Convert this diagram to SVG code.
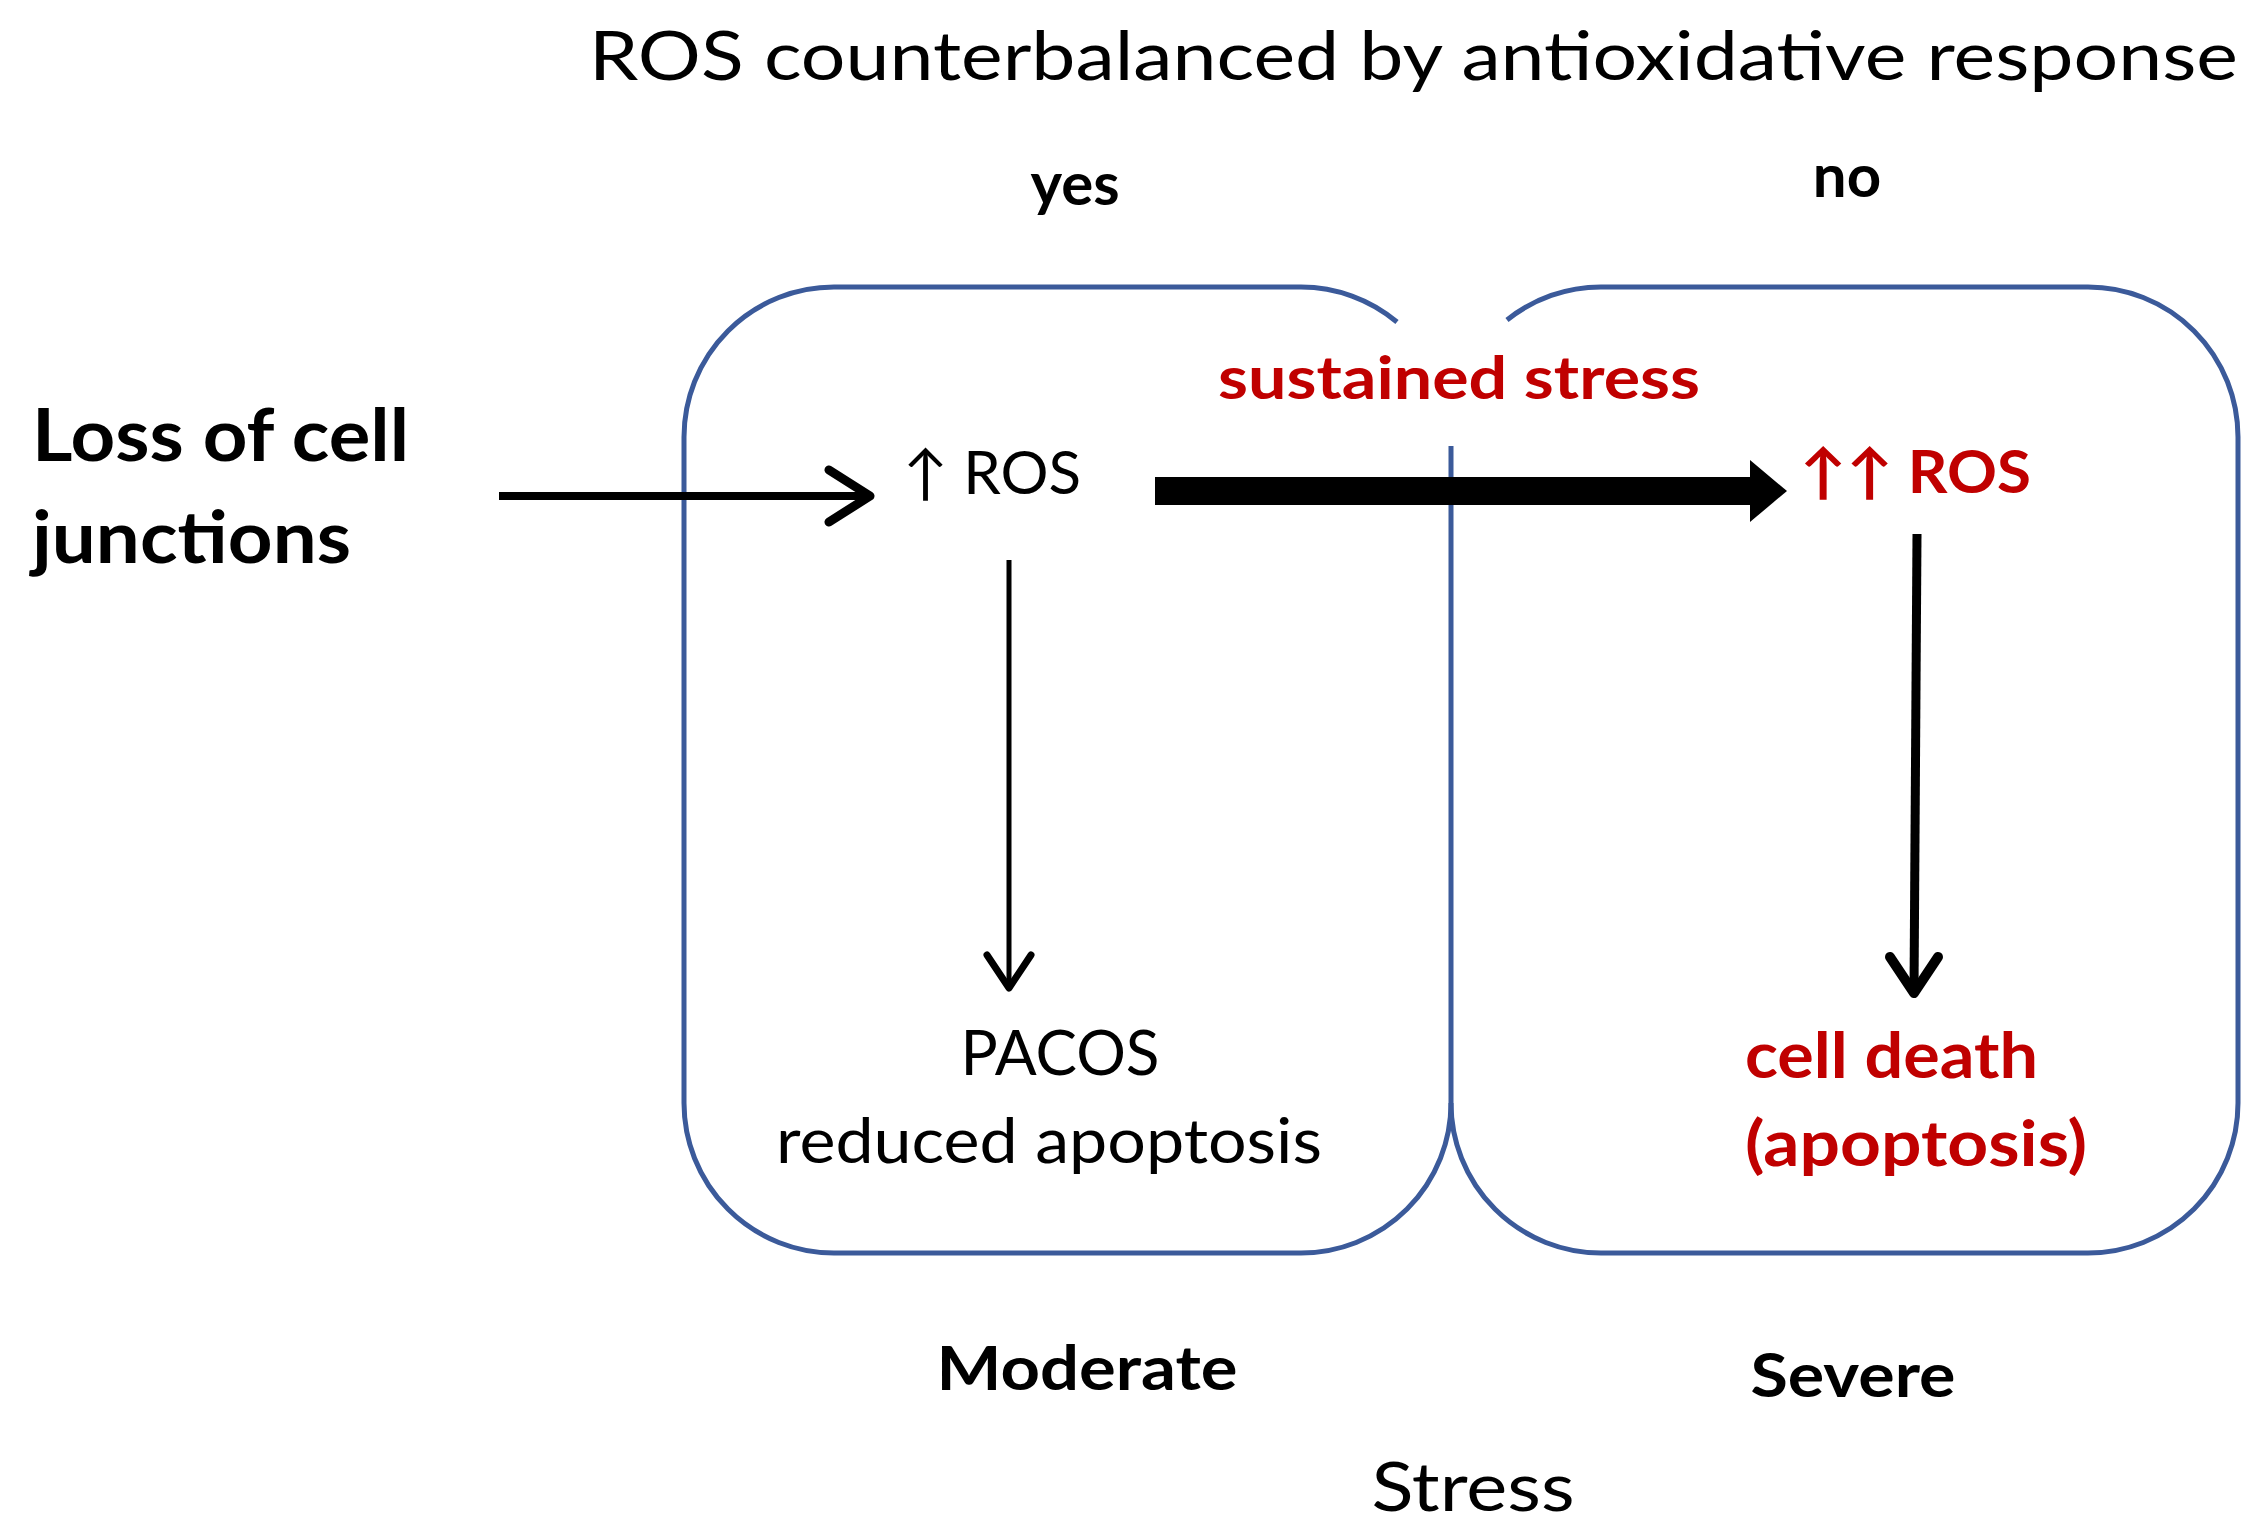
<svg xmlns="http://www.w3.org/2000/svg" width="2267" height="1534" viewBox="0 0 2267 1534">
<style>
text{font-family:Lato,"Open Sans",sans-serif;fill:#000}
.b{font-weight:bold}
.r{fill:#c00000}
.box{fill:none;stroke:#3b5a9a;stroke-width:5}
.ln{fill:none;stroke:#000;stroke-linecap:butt}
.hd{fill:none;stroke:#000;stroke-linecap:round;stroke-linejoin:round}
</style>
<rect width="2267" height="1534" fill="#fff"/>
<text x="589" y="80" font-size="68" textLength="1649" lengthAdjust="spacingAndGlyphs">ROS counterbalanced by antioxidative response</text>
<text class="b" x="1075" y="205" font-size="60" text-anchor="middle">yes</text>
<text class="b" x="1847" y="197" font-size="60" text-anchor="middle">no</text>
<g id="box-moderate"><path class="box" d="M1397,322 A150,150 0 0 0 1301,287 H834 A150,150 0 0 0 684,437 V1103 A150,150 0 0 0 834,1253 H1301 A150,150 0 0 0 1451,1103"/></g>
<g id="box-severe"><path class="box" d="M1507,320 A150,150 0 0 1 1601,287 H2088 A150,150 0 0 1 2238,437 V1103 A150,150 0 0 1 2088,1253 H1601 A150,150 0 0 1 1451,1103 V446"/></g>
<g id="loss"><text class="b" x="32" y="461" font-size="72" textLength="377" lengthAdjust="spacingAndGlyphs">Loss of cell</text><text class="b" x="32" y="563" font-size="72" textLength="319" lengthAdjust="spacingAndGlyphs">junctions</text></g>
<g id="ros1"><text x="903" y="494" font-size="60">↑ ROS</text></g>
<g id="ros2"><text class="b r" x="1800" y="493" font-size="60" textLength="231" lengthAdjust="spacingAndGlyphs">↑↑ ROS</text></g>
<g id="sustained"><text class="b r" x="1218" y="399" font-size="60" textLength="482" lengthAdjust="spacingAndGlyphs">sustained stress</text></g>
<g id="pacos"><text x="1060" y="1075" font-size="62" text-anchor="middle" textLength="199" lengthAdjust="spacingAndGlyphs">PACOS</text><text x="1049" y="1163" font-size="62" text-anchor="middle" textLength="546" lengthAdjust="spacingAndGlyphs">reduced apoptosis</text></g>
<g id="death"><text class="b r" x="1745" y="1078" font-size="64" textLength="293" lengthAdjust="spacingAndGlyphs">cell death</text><text class="b r" x="1745" y="1166" font-size="64" textLength="342" lengthAdjust="spacingAndGlyphs">(apoptosis)</text></g>
<g id="labels"><text class="b" x="1087" y="1390" font-size="62" text-anchor="middle" textLength="301" lengthAdjust="spacingAndGlyphs">Moderate</text><text class="b" x="1853" y="1397" font-size="62" text-anchor="middle" textLength="205" lengthAdjust="spacingAndGlyphs">Severe</text><text x="1473" y="1511" font-size="68" text-anchor="middle" textLength="203" lengthAdjust="spacingAndGlyphs">Stress</text></g>
<g id="connectors">
<line class="ln" x1="499" y1="496" x2="870" y2="496" stroke-width="8"/>
<polyline class="hd" points="829,470 870,496 829,522" stroke-width="9"/>
<rect x="1155" y="477" width="600" height="28" fill="#000"/>
<polygon points="1750,460 1787,491 1750,522" fill="#000"/>
<line class="ln" x1="1009" y1="560" x2="1009" y2="988" stroke-width="5"/>
<polyline class="hd" points="987,955 1009,988 1031,955" stroke-width="7"/>
<line class="ln" x1="1917" y1="534" x2="1914" y2="992" stroke-width="9"/>
<polyline class="hd" points="1890,957 1914,993 1938,957" stroke-width="10"/>
</g>
</svg>
